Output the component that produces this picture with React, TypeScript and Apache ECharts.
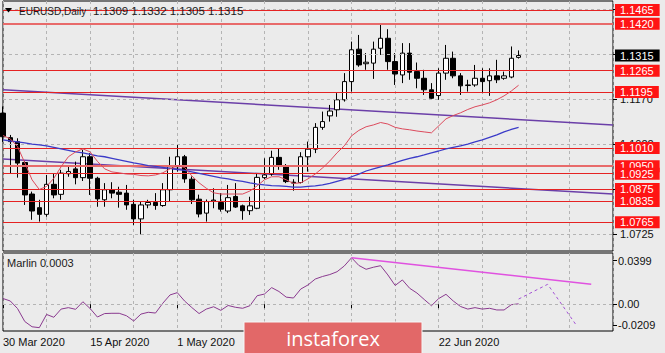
import React, { useEffect, useRef } from 'react';
import * as echarts from 'echarts';

const MONTHS = ['Jan', 'Feb', 'Mar', 'Apr', 'May', 'Jun', 'Jul', 'Aug', 'Sep', 'Oct', 'Nov', 'Dec'];
function tradingDays(y: number, m: number, d: number, count: number): string[] {
  const out: string[] = [];
  const dt = new Date(Date.UTC(y, m - 1, d));
  while (out.length < count) {
    const wd = dt.getUTCDay();
    if (wd !== 0 && wd !== 6) out.push(`${dt.getUTCDate()} ${MONTHS[dt.getUTCMonth()]} ${dt.getUTCFullYear()}`);
    dt.setUTCDate(dt.getUTCDate() + 1);
  }
  return out;
}
// 72 daily bars (30 Mar 2020 .. 7 Jul 2020) + empty space on the right
const dates = tradingDays(2020, 3, 30, 85);

const opens = [
  1.1125, 1.1044, 1.1031, 1.0962, 1.0858, 1.0813, 1.0791, 1.0890, 1.0857, 1.0925,
  1.0941, 1.0912, 1.0981, 1.0910, 1.0839, 1.0872, 1.0864, 1.0861, 1.0824, 1.0776,
  1.0822, 1.0830, 1.0820, 1.0872, 1.0948, 1.0981, 1.0907, 1.0841, 1.0795, 1.0835,
  1.0830, 1.0802, 1.0850, 1.0819, 1.0803, 1.0811, 1.0912, 1.0924, 1.0979, 1.0949,
  1.0897, 1.0896, 1.0981, 1.1006, 1.1078, 1.1116, 1.1136, 1.1169, 1.1229, 1.1336,
  1.1288, 1.1290, 1.1339, 1.1372, 1.1295, 1.1251, 1.1323, 1.1262, 1.1240, 1.1202,
  1.1183, 1.1257, 1.1306, 1.1248, 1.1216, 1.1218, 1.1240, 1.1232, 1.1248, 1.1240,
  1.1244, 1.1309,
];
const highs = [
  1.1147, 1.1053, 1.1042, 1.0966, 1.0866, 1.0839, 1.0921, 1.0927, 1.0938, 1.0948,
  1.0965, 1.1004, 1.0993, 1.0915, 1.0894, 1.0897, 1.0882, 1.0888, 1.0839, 1.0833,
  1.0839, 1.0861, 1.0894, 1.0981, 1.1020, 1.0987, 1.0916, 1.0856, 1.0840, 1.0877,
  1.0861, 1.0888, 1.0894, 1.0823, 1.0849, 1.0924, 1.0976, 1.1001, 1.1009, 1.0957,
  1.0907, 1.0996, 1.1031, 1.1092, 1.1130, 1.1152, 1.1191, 1.1257, 1.1361, 1.1383,
  1.1323, 1.1361, 1.1422, 1.1402, 1.1323, 1.1356, 1.1356, 1.1292, 1.1268, 1.1224,
  1.1273, 1.1350, 1.1328, 1.1257, 1.1235, 1.1284, 1.1273, 1.1273, 1.1301, 1.1262,
  1.1345, 1.1332,
];
const lows = [
  1.1030, 1.0927, 1.0912, 1.0822, 1.0773, 1.0767, 1.0783, 1.0844, 1.0839, 1.0915,
  1.0890, 1.0901, 1.0855, 1.0816, 1.0816, 1.0844, 1.0813, 1.0806, 1.0756, 1.0725,
  1.0811, 1.0806, 1.0816, 1.0835, 1.0932, 1.0895, 1.0825, 1.0781, 1.0767, 1.0811,
  1.0800, 1.0795, 1.0812, 1.0773, 1.0789, 1.0808, 1.0907, 1.0918, 1.0938, 1.0894,
  1.0869, 1.0893, 1.0932, 1.0993, 1.1070, 1.1097, 1.1113, 1.1163, 1.1196, 1.1278,
  1.1268, 1.1238, 1.1317, 1.1268, 1.1218, 1.1224, 1.1235, 1.1207, 1.1185, 1.1169,
  1.1169, 1.1235, 1.1240, 1.1185, 1.1196, 1.1212, 1.1191, 1.1182, 1.1224, 1.1235,
  1.1240, 1.1305,
];
const closes = [
  1.1047, 1.1031, 1.0960, 1.0855, 1.0802, 1.0791, 1.0890, 1.0855, 1.0927, 1.0932,
  1.0912, 1.0981, 1.0910, 1.0842, 1.0872, 1.0861, 1.0857, 1.0822, 1.0776, 1.0822,
  1.0830, 1.0820, 1.0872, 1.0948, 1.0981, 1.0908, 1.0839, 1.0792, 1.0833, 1.0838,
  1.0808, 1.0846, 1.0815, 1.0803, 1.0819, 1.0913, 1.0921, 1.0979, 1.0952, 1.0899,
  1.0894, 1.0981, 1.1006, 1.1078, 1.1097, 1.1132, 1.1169, 1.1229, 1.1334, 1.1284,
  1.1293, 1.1336, 1.1372, 1.1295, 1.1254, 1.1323, 1.1260, 1.1240, 1.1202, 1.1174,
  1.1257, 1.1306, 1.1248, 1.1215, 1.1218, 1.1240, 1.1229, 1.1248, 1.1235, 1.1248,
  1.1306, 1.1315,
];
const fastMA = [
  1.1051, 1.1040, 1.1015, 1.0961, 1.0905, 1.0873, 1.0883, 1.0910, 1.0948, 1.0981,
  1.0997, 1.1007, 1.0997, 1.0966, 1.0941, 1.0931, 1.0928, 1.0924, 1.0923, 1.0919,
  1.0918, 1.0921, 1.0928, 1.0941, 1.0951, 1.0946, 1.0918, 1.0895, 1.0877, 1.0862,
  1.0858, 1.0858, 1.0858, 1.0858, 1.0868, 1.0885, 1.0905, 1.0915, 1.0915, 1.0905,
  1.0893, 1.0895, 1.0908, 1.0924, 1.0944, 1.0967, 1.0994, 1.1017, 1.1050, 1.1068,
  1.1080, 1.1086, 1.1094, 1.1089, 1.1078, 1.1073, 1.1070, 1.1066, 1.1063, 1.1060,
  1.1083, 1.1106, 1.1117, 1.1126, 1.1137, 1.1146, 1.1152, 1.1159, 1.1169, 1.1182,
  1.1198, 1.1217,
];
const slowMA = [
  1.1037, 1.1033, 1.1030, 1.1027, 1.1023, 1.1020, 1.1017, 1.1012, 1.1007, 1.1002,
  1.0997, 1.0994, 1.0989, 1.0984, 1.0981, 1.0976, 1.0971, 1.0966, 1.0961, 1.0957,
  1.0952, 1.0949, 1.0946, 1.0943, 1.0939, 1.0936, 1.0931, 1.0926, 1.0921, 1.0916,
  1.0911, 1.0908, 1.0903, 1.0900, 1.0895, 1.0891, 1.0888, 1.0886, 1.0885, 1.0883,
  1.0881, 1.0881, 1.0883, 1.0885, 1.0888, 1.0893, 1.0900, 1.0906, 1.0915, 1.0924,
  1.0934, 1.0941, 1.0948, 1.0954, 1.0962, 1.0969, 1.0976, 1.0981, 1.0987, 1.0994,
  1.1000, 1.1007, 1.1012, 1.1017, 1.1023, 1.1030, 1.1037, 1.1045, 1.1053, 1.1063,
  1.1071, 1.1078,
];
const marlin = [
  0.0044, 0.0025, -0.0034, -0.0135, -0.0176, -0.0183, -0.0080, -0.0102, -0.0038, -0.0027,
  -0.0040, 0.0019, -0.0034, -0.0100, -0.0073, -0.0071, -0.0071, -0.0090, -0.0131, -0.0077,
  -0.0063, -0.0069, 0.0007, 0.0072, 0.0090, 0.0025, -0.0026, -0.0073, -0.0038, -0.0020,
  -0.0048, -0.0010, -0.0024, -0.0032, -0.0012, 0.0066, 0.0079, 0.0129, 0.0099, 0.0055,
  0.0048, 0.0118, 0.0150, 0.0196, 0.0216, 0.0231, 0.0253, 0.0298, 0.0362, 0.0302,
  0.0272, 0.0288, 0.0300, 0.0228, 0.0146, 0.0189, 0.0124, 0.0087, 0.0037, -0.0012,
  0.0044, 0.0077, 0.0025, -0.0018, -0.0038, -0.0027, -0.0038, -0.0032, -0.0045, -0.0045,
  -0.0004, 0.0003,
];
// drawn objects: [barIndex, value]
const upperTrend = [[0, 1.1202], [84, 1.1086]];
const lowerTrend = [[0, 1.0974], [84, 1.0858]];
const marlinTrend = [[48, 0.0362], [81, 0.0155]];
const marlinForecast = [[71, 0.0040], [75, 0.0155], [79, -0.0168]];
const levels = [1.1465, 1.142, 1.1265, 1.1195, 1.101, 1.095, 1.0925, 1.0875, 1.0835, 1.0765];
const priceTicks = [1.0725, 1.0873, 1.1022, 1.117, 1.1318, 1.1467];
const priceTickLabels = [1.0725, 1.1022, 1.117]; // the others sit under level boxes
const dateLabelBars = [0, 12, 24, 60]; // 19 May / 4 Jun sit under the logo
const PRICE_MIN = 1.067;
const PRICE_MAX = 1.1495;
const IND_MIN = -0.0209;
const IND_MAX = 0.0399;

const FONT = 'Liberation Sans';
const GRID_C = '#b4b4b4';
const LAST = closes.length - 1;

function buildOption() {
  const candleData = opens.map((o, i) => [o, closes[i], lows[i], highs[i]]);
  const thick = new Set([1.142, 1.095]);
  const levelLines = levels.map((v) => ({
    yAxis: v,
    lineStyle: { color: thick.has(v) ? '#e86a6a' : '#e52222', width: thick.has(v) ? 2 : 1, type: 'solid' },
    label: {
      show: true, position: 'end', distance: 2, formatter: v.toFixed(4), color: '#fff',
      backgroundColor: '#ff1414', padding: [1, 6, 0, 5], fontSize: 11, fontFamily: FONT,
    },
  }));
  const lastPrice = {
    yAxis: closes[LAST],
    lineStyle: { color: 'rgba(0,0,0,0)', width: 1, type: 'solid' },
    label: {
      show: true, position: 'end', distance: 2, formatter: closes[LAST].toFixed(4), color: '#fff',
      backgroundColor: '#000', padding: [1, 6, 0, 5], fontSize: 11, fontFamily: FONT,
    },
  };
  const indEdge = [IND_MIN + 0.0047, 0, IND_MAX - 0.006];
  const vSplit = (i: number) => i % 6 === 0;
  const dateTick = (i: number) => i % 12 === 0 && i <= LAST;
  const dateLabel = (i: number) => dateLabelBars.includes(i);

  return {
    animation: false,
    backgroundColor: '#ebebeb',
    textStyle: { fontFamily: FONT },
    grid: [
      { left: 3, right: 52, top: 1, bottom: 102, show: true, borderColor: '#000', borderWidth: 1 },
      { left: 3, right: 52, top: 253, bottom: 22, show: true, borderColor: '#000', borderWidth: 1 },
    ],
    xAxis: [
      {
        type: 'category', gridIndex: 0, data: dates, boundaryGap: false,
        axisLine: { show: false }, axisTick: { show: false }, axisLabel: { show: false },
        splitLine: { show: true, interval: vSplit, lineStyle: { color: GRID_C, type: [3, 3], width: 1 } },
      },
      {
        type: 'category', gridIndex: 1, data: dates, boundaryGap: false,
        axisLine: { show: false },
        axisTick: { show: true, interval: dateTick, length: 4, lineStyle: { color: '#000' } },
        axisLabel: { show: true, interval: dateLabel, align: 'left', margin: 5, fontSize: 11, color: '#111', fontFamily: FONT },
        splitLine: { show: true, interval: vSplit, lineStyle: { color: GRID_C, type: [3, 3], width: 1 } },
      },
    ],
    yAxis: [
      {
        type: 'value', gridIndex: 0, position: 'right', min: PRICE_MIN, max: PRICE_MAX, scale: true,
        axisLine: { show: false }, splitLine: { show: false },
        axisTick: { show: true, length: 4, customValues: priceTicks, lineStyle: { color: '#000' } },
        axisLabel: { show: true, customValues: priceTickLabels, formatter: (v: number) => v.toFixed(4), margin: 7, fontSize: 11, color: '#111', fontFamily: FONT },
      },
      {
        type: 'value', gridIndex: 1, position: 'right', min: IND_MIN, max: IND_MAX,
        axisLine: { show: false }, splitLine: { show: false },
        axisTick: { show: true, length: 4, customValues: indEdge, lineStyle: { color: '#000' } },
        axisLabel: {
          show: true, customValues: indEdge, margin: 5, fontSize: 11, color: '#111', fontFamily: FONT,
          formatter: (v: number) => (v > 0 ? IND_MAX.toFixed(4) : v < 0 ? IND_MIN.toFixed(4) : '0.00'),
        },
      },
    ],
    series: [
      {
        name: 'grid', type: 'line', xAxisIndex: 0, yAxisIndex: 0, data: [], z: 1, silent: true,
        markLine: {
          silent: true, symbol: ['none', 'none'], animation: false, precision: 6,
          data: priceTicks.map((v) => ({ yAxis: v, label: { show: false }, lineStyle: { color: GRID_C, type: [3, 3], width: 1 } })),
        },
      },
      {
        name: 'trendUp', type: 'line', xAxisIndex: 0, yAxisIndex: 0, data: upperTrend, z: 2, silent: true,
        symbol: 'none', lineStyle: { color: '#6b3fa8', width: 1.5 },
      },
      {
        name: 'trendDown', type: 'line', xAxisIndex: 0, yAxisIndex: 0, data: lowerTrend, z: 2, silent: true,
        symbol: 'none', lineStyle: { color: '#6b3fa8', width: 1.5 },
      },
      {
        name: 'EURUSD', type: 'candlestick', xAxisIndex: 0, yAxisIndex: 0, data: candleData, z: 3,
        barWidth: 5,
        itemStyle: { color: '#ffffff', color0: '#000000', borderColor: '#000000', borderColor0: '#000000', borderWidth: 1 },
      },
      {
        name: 'levels', type: 'line', xAxisIndex: 0, yAxisIndex: 0, data: [], z: 4, silent: true,
        markLine: {
          silent: true, symbol: ['none', 'none'], animation: false, precision: 6,
          data: [...levelLines, lastPrice],
        },
      },
      {
        name: 'slowMA', type: 'line', xAxisIndex: 0, yAxisIndex: 0, data: slowMA, z: 5, silent: true,
        symbol: 'none', lineStyle: { color: '#3b3bc8', width: 1.3 },
      },
      {
        name: 'fastMA', type: 'line', xAxisIndex: 0, yAxisIndex: 0, data: fastMA, z: 5, silent: true,
        symbol: 'none', lineStyle: { color: '#dc4a5c', width: 1 },
      },
      {
        name: 'Marlin', type: 'line', xAxisIndex: 1, yAxisIndex: 1, data: marlin, z: 3, silent: true,
        symbol: 'none', lineStyle: { color: '#8a3a8f', width: 1 },
        markLine: {
          silent: true, symbol: ['none', 'none'], animation: false, precision: 6,
          data: [{ yAxis: 0, label: { show: false }, lineStyle: { color: GRID_C, type: [3, 3], width: 1 } }],
        },
      },
      {
        name: 'MarlinTrend', type: 'line', xAxisIndex: 1, yAxisIndex: 1, data: marlinTrend, z: 4, silent: true,
        symbol: 'none', lineStyle: { color: '#e052e0', width: 1.5 },
      },
      {
        name: 'MarlinForecast', type: 'line', xAxisIndex: 1, yAxisIndex: 1, data: marlinForecast, z: 4, silent: true,
        symbol: 'none', lineStyle: { color: '#a453d6', width: 1, type: [3, 3] },
      },
    ],
    graphic: [
      { type: 'polygon', z: 100, shape: { points: [[5, 8], [12, 8], [8.5, 12.5]] }, style: { fill: '#000' } },
      {
        type: 'text', z: 100, x: 19, y: 11,
        style: { text: 'EURUSD,Daily', font: `10px "${FONT}"`, fill: '#1a1a1a', verticalAlign: 'middle' },
      },
      {
        type: 'text', z: 100, x: 93, y: 11,
        style: {
          text: [opens[LAST], highs[LAST], lows[LAST], closes[LAST]].map((v) => v.toFixed(4)).join(' '),
          font: `11.5px "${FONT}"`, fill: '#1a1a1a', verticalAlign: 'middle',
        },
      },
      {
        type: 'text', z: 100, x: 7, y: 263,
        style: { text: `Marlin ${marlin[LAST].toFixed(4)}`, font: `11px "${FONT}"`, fill: '#1a1a1a', verticalAlign: 'middle' },
      },
      {
        type: 'rect', z: 100, shape: { x: 244, y: 322, width: 178, height: 36 },
        style: { fill: '#e26868', stroke: '#f6f6f6', lineWidth: 1 },
      },
      {
        type: 'text', z: 101, x: 333, y: 338,
        style: { text: 'instaforex', font: '20px "Open Sans"', fill: '#ffffff', align: 'center', verticalAlign: 'middle' },
      },
    ],
  };
}

export default function App() {
  const ref = useRef<HTMLDivElement>(null);
  useEffect(() => {
    const chart = echarts.init(ref.current!, null, { renderer: 'svg' });
    chart.setOption(buildOption() as any);
    return () => chart.dispose();
  }, []);
  return (
    <div
      ref={ref}
      style={{ position: 'fixed', left: 0, top: 0, width: 665, height: 353, background: '#ebebeb' }}
    />
  );
}
